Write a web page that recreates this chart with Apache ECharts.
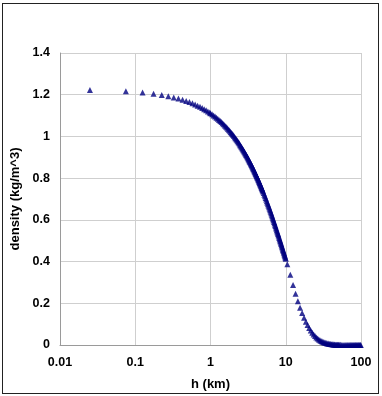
<!DOCTYPE html>
<html>
<head>
<meta charset="utf-8">
<script src="https://cdn.jsdelivr.net/npm/echarts@6/dist/echarts.min.js"></script>
<style>
  html, body { margin: 0; padding: 0; background: #fff; }
  #frame { position: absolute; left: 2px; top: 3px; width: 375px; height: 389px; border: 1.5px solid #222; }
  #chart { position: absolute; left: 0; top: 0; width: 382px; height: 396px; }
</style>
</head>
<body>
<div id="frame"></div>
<div id="chart"></div>
<script>
// altitude (km) and air density (kg/m^3)
const hLow = [0.025, 0.075, 0.125, 0.175, 0.225, 0.275, 0.325, 0.375, 0.425, 0.475,
  0.525, 0.575, 0.625, 0.675, 0.725, 0.775, 0.825, 0.875, 0.925, 0.975]
const rhoLow = [1.2221, 1.2162, 1.2104, 1.2046, 1.1988, 1.1930, 1.1872, 1.1815, 1.1758, 1.1701,
  1.1645, 1.1588, 1.1532, 1.1476, 1.1420, 1.1365, 1.1309, 1.1254, 1.1199, 1.1145]

const hMid = [1.0, 1.1, 1.2, 1.3, 1.4, 1.5, 1.6, 1.7, 1.8, 1.9,
  2.0, 2.1, 2.2, 2.3, 2.4, 2.5, 2.6, 2.7, 2.8, 2.9,
  3.0, 3.1, 3.2, 3.3, 3.4, 3.5, 3.6, 3.7, 3.8, 3.9,
  4.0, 4.1, 4.2, 4.3, 4.4, 4.5, 4.6, 4.7, 4.8, 4.9,
  5.0, 5.1, 5.2, 5.3, 5.4, 5.5, 5.6, 5.7, 5.8, 5.9,
  6.0, 6.1, 6.2, 6.3, 6.4, 6.5, 6.6, 6.7, 6.8, 6.9,
  7.0, 7.1, 7.2, 7.3, 7.4, 7.5, 7.6, 7.7, 7.8, 7.9,
  8.0, 8.1, 8.2, 8.3, 8.4, 8.5, 8.6, 8.7, 8.8, 8.9,
  9.0, 9.1, 9.2, 9.3, 9.4, 9.5, 9.6, 9.7, 9.8, 9.9, 10.0]
const rhoMid = [1.1117, 1.1008, 1.0900, 1.0793, 1.0687, 1.0581, 1.0476, 1.0372, 1.0269, 1.0167,
  1.0066, 0.9965, 0.9865, 0.9766, 0.9667, 0.9569, 0.9472, 0.9376, 0.9280, 0.9186,
  0.9093, 0.9000, 0.8907, 0.8815, 0.8724, 0.8634, 0.8545, 0.8456, 0.8368, 0.8281,
  0.8194, 0.8108, 0.8023, 0.7938, 0.7854, 0.7771, 0.7688, 0.7606, 0.7525, 0.7444,
  0.7364, 0.7285, 0.7206, 0.7128, 0.7051, 0.6974, 0.6898, 0.6823, 0.6748, 0.6674,
  0.6601, 0.6528, 0.6456, 0.6384, 0.6313, 0.6243, 0.6173, 0.6104, 0.6035, 0.5967,
  0.5900, 0.5833, 0.5767, 0.5701, 0.5636, 0.5571, 0.5507, 0.5444, 0.5381, 0.5319,
  0.5258, 0.5197, 0.5136, 0.5076, 0.5016, 0.4957, 0.4899, 0.4841, 0.4783, 0.4726,
  0.4671, 0.4615, 0.4559, 0.4504, 0.4450, 0.4396, 0.4343, 0.4290, 0.4238, 0.4186, 0.4135]

// the in-between samples from 1 to 5 km, where the markers sit further apart
const hMid2 = [1.05, 1.15, 1.25, 1.35, 1.45, 1.55, 1.65, 1.75, 1.85, 1.95,
  2.05, 2.15, 2.25, 2.35, 2.45, 2.55, 2.65, 2.75, 2.85, 2.95,
  3.05, 3.15, 3.25, 3.35, 3.45, 3.55, 3.65, 3.75, 3.85, 3.95,
  4.05, 4.15, 4.25, 4.35, 4.45, 4.55, 4.65, 4.75, 4.85, 4.95]
const rhoMid2 = [1.1062, 1.0954, 1.0846, 1.0740, 1.0634, 1.0528, 1.0424, 1.0320, 1.0218, 1.0116,
  1.0015, 0.9915, 0.9815, 0.9716, 0.9618, 0.9520, 0.9424, 0.9328, 0.9233, 0.9139,
  0.9046, 0.8953, 0.8861, 0.8769, 0.8679, 0.8589, 0.8500, 0.8412, 0.8324, 0.8237,
  0.8151, 0.8065, 0.7980, 0.7896, 0.7812, 0.7729, 0.7647, 0.7565, 0.7484, 0.7404]

const hHigh = [10.5, 11.5, 12.5, 13.5, 14.5, 15.5, 16.5, 17.5, 18.5, 19.5,
  20.5, 21.5, 22.5, 23.5, 24.5, 25.5, 26.5, 27.5, 28.5, 29.5,
  30.5, 31.5, 32.5, 33.5, 34.5, 35.5, 36.5, 37.5, 38.5, 39.5,
  40.5, 41.5, 42.5, 43.5, 44.5, 45.5, 46.5, 47.5, 48.5, 49.5, 50.5,
  51.5, 53.5, 55.5, 57.5, 59.5, 61.5, 63.5, 65.5, 67.5, 69.5,
  71.5, 73.5, 75.5, 77.5, 79.5, 81.5, 83.5, 85.5, 87.5, 89.5,
  91.5, 93.5, 95.5, 97.5, 99.5]
const rhoHigh = [0.3877, 0.3363, 0.2873, 0.2454, 0.2096, 0.1790, 0.1529, 0.1306, 0.1115, 0.0953,
  0.0812, 0.0691, 0.0588, 0.0501, 0.0427, 0.0365, 0.0311, 0.0266, 0.0227, 0.0195,
  0.0167, 0.0143, 0.0122, 0.0105, 0.0090, 0.0077, 0.0066, 0.0057, 0.0049, 0.0042,
  0.0036, 0.0031, 0.0027, 0.0023, 0.0020, 0.0017, 0.0015, 0.0013, 0.0011, 0.0010, 0.0009,
  0.0008, 0.00064, 0.00051, 0.00041, 0.00033, 0.00026, 0.00021, 0.00016, 0.00012, 0.00009,
  0.00007, 0.00005, 0.00004, 0.00003, 0.00002, 0.00002, 0.00001, 0.00001, 0.00001, 0,
  0, 0, 0, 0, 0]

const yTicks = ['0', '0.2', '0.4', '0.6', '0.8', '1', '1.2', '1.4']

const pairs = (hs, rs) => hs.map((h, i) => [h, rs[i]])
const points = [
  ...pairs(hLow, rhoLow),
  ...pairs(hMid, rhoMid),
  ...pairs(hMid2, rhoMid2),
  ...pairs(hHigh, rhoHigh)
]

const chart = echarts.init(document.getElementById('chart'))

const font = 'Liberation Sans, Arial, Helvetica, sans-serif'

const option = {
  animation: false,
  grid: { left: 60, right: 21, top: 53, bottom: 51 },
  xAxis: {
    type: 'log',
    logBase: 10,
    min: 0.01,
    max: 100,
    name: 'h (km)',
    nameLocation: 'middle',
    nameGap: 33,
    nameTextStyle: { color: '#000', fontWeight: 'bold', fontSize: 13, fontFamily: font },
    axisLine: { lineStyle: { color: '#9a9a9a', width: 1 } },
    axisTick: { show: false },
    axisLabel: {
      color: '#000', fontWeight: 'bold', fontSize: 12.5, fontFamily: font, margin: 11,
      formatter: v => String(Number(v.toPrecision(3)))
    },
    splitLine: { show: true, lineStyle: { color: '#cfcfcf', width: 1 } }
  },
  yAxis: {
    type: 'value',
    min: 0,
    max: 1.4,
    interval: 0.2,
    name: 'density (kg/m^3)',
    nameLocation: 'middle',
    nameGap: 30,
    nameRotate: 90,
    nameTextStyle: { color: '#000', fontWeight: 'bold', fontSize: 13, fontFamily: font },
    axisLine: { show: true, lineStyle: { color: '#9a9a9a', width: 1 } },
    axisTick: { show: false },
    axisLabel: {
      color: '#000', fontWeight: 'bold', fontSize: 12.5, fontFamily: font, margin: 10,
      formatter: (v, i) => yTicks[i]
    },
    splitLine: { show: true, lineStyle: { color: '#cfcfcf', width: 1 } }
  },
  series: [
    {
      type: 'scatter',
      symbol: 'triangle',
      symbolSize: [6, 6],
      itemStyle: { color: '#000080' },
      data: points
    }
  ]
}

chart.setOption(option)
</script>
</body>
</html>
